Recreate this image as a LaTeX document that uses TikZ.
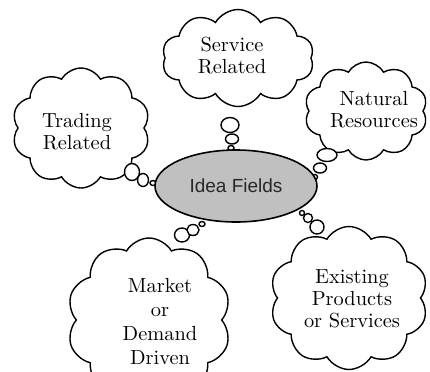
\documentclass[tikz,border=0pt]{standalone}
\usepackage{fontspec}
\newfontfamily\ideafont{Liberation Sans}
\usepackage{tikz}
\usetikzlibrary{shapes.symbols,shapes.geometric}
\definecolor{ideaback}{RGB}{192,192,192}
\definecolor{ideatext}{RGB}{40,40,40}
\tikzset{
  thought/.style={cloud,draw,fill=white,line width=0.7pt,cloud puffs=10,cloud puff arc=120,cloud ignores aspect,inner sep=0pt},
  thoughttext/.style={align=center,font=\fontsize{10.2}{11}\selectfont},
  bubble/.style={ellipse,draw,fill=white,line width=0.7pt,inner sep=0pt}
}

\begin{document}
\begin{tikzpicture}[x=0.5pt,y=-0.5pt]
\useasboundingbox (0,0) rectangle (430,371);
\clip (0,0) rectangle (430,371);
\fill [white] (0,0) rectangle (430,371);

\node [thought,minimum width=76pt,minimum height=48.5pt] (service) at (238,58) {};
\node [thoughttext] (servicetext) at (232,56) {Service\\Related};
\node [thought,minimum width=61.5pt,minimum height=49pt] (natural) at (366,111) {};
\node [thoughttext] (naturaltext) at (374,110) {Natural\\Resources};
\node [thought,minimum width=69pt,minimum height=60pt] (trading) at (81,128) {};
\node [thoughttext] (tradingtext) at (77,132) {Trading\\Related};
\node [thought,minimum width=82pt,minimum height=82pt] (market) at (149,320) {};
\node [thoughttext,font=\fontsize{10.2}{12}\selectfont] (markettext) at (160,322) {Market\\or\\Demand\\Driven};
\node [thought,minimum width=79pt,minimum height=71.5pt] (existing) at (349,298) {};
\node [thoughttext] (existingtext) at (352,299) {Existing\\Products\\or Services};

\foreach \x/\y/\w/\h [count=\i] in {230/125/18/15,232/139/13/10,231/148/6/5,
  132/172/15/17,143/180/11/13,153/183/6/5,
  327/155/20/13,320/168/13/10,315/177/5/5,
  182/235/15/14,193/230/12/11,202/224/6/5,
  302/213/5/5,308/218/9/9,317/227/14/14}
  \node [bubble,minimum width=\w*0.5pt,minimum height=\h*0.5pt] (bubble\i) at (\x,\y) {};

\node [ellipse,draw,fill=ideaback,line width=0.8pt,minimum width=81pt,minimum height=36pt,inner sep=0pt,
  text=ideatext,font=\ideafont\fontsize{9.5}{11}\selectfont] (idea) at (236,186) {Idea Fields};
\end{tikzpicture}
\end{document}
